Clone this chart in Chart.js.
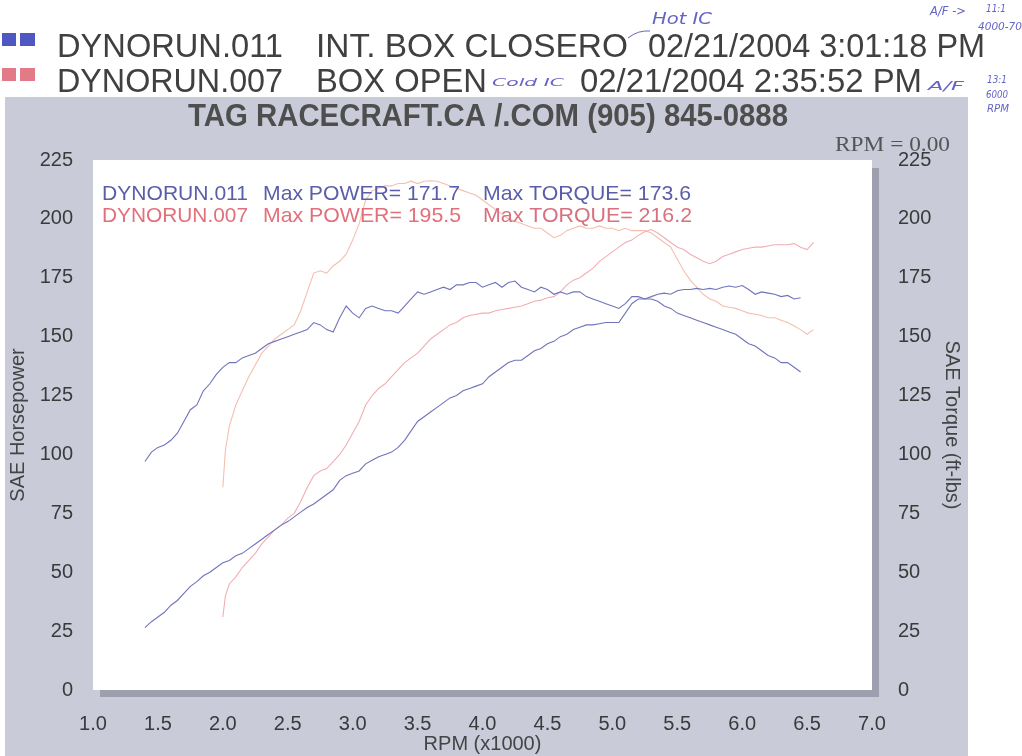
<!DOCTYPE html>
<html>
<head>
<meta charset="utf-8">
<title>Dyno run comparison</title>
<script src="https://cdn.jsdelivr.net/npm/chart.js@4.4.1/dist/chart.umd.min.js"></script>
<style>
  html, body { margin: 0; padding: 0; background: #ffffff; }
  #dyno { display: block; }
</style>
</head>
<body>
<canvas id="dyno" width="1022" height="756"></canvas>
<script>
// RPM (x1000) and readings
const rpm011 = [1.40,1.45,1.50,1.55,1.60,1.65,1.70,1.75,1.80,1.85,1.90,1.95,
    2.00,2.05,2.10,2.15,2.20,2.25,2.30,2.35,2.40,2.45,2.50,2.55,2.60,2.65,2.70,2.75,2.80,2.85,2.90,2.95,
    3.00,3.05,3.10,3.15,3.20,3.25,3.30,3.35,3.40,3.45,3.50,3.55,3.60,3.65,3.70,3.75,3.80,3.85,3.90,3.95,
    4.00,4.05,4.10,4.15,4.20,4.25,4.30,4.35,4.40,4.45,4.50,4.55,4.60,4.65,4.70,4.75,4.80,4.85,4.90,4.95,
    5.00,5.05,5.10,5.15,5.20,5.25,5.30,5.35,5.40,5.45,5.50,5.55,5.60,5.65,5.70,5.75,5.80,5.85,5.90,5.95,
    6.00,6.05,6.10,6.15,6.20,6.25,6.30,6.35,6.40,6.45]
const hp011 = [26.5,29,31,33,36,38,41,44,46,48.5,50,52,
    54,55,57,58,60,62,64,66,68,70,71.5,73.5,75.5,77.5,79,81,83,85,89,91,
    92,93,96,97.5,99,100,101,103,106,110,114,116,118,120,122,124,125,127,128,129,
    130,133,135,137,139,140,140,142,144,145,147,148,150,151,153,154,155,155,155.5,156,
    156,156,160,164,166,166,167,168,168.5,168,169.5,170,170,170.5,170,170.5,170,171,171.5,171,
    171.7,170,168,169,168.5,168,167,167.5,166,166.5]
const tq011 = [97,101,103,104,106,109,114,119,121,127,130,134,
    137,139,139,141,142,143,145,147,148,149,150,151,152,153,156,155,153,152,158,163,
    160,158,162,163,162,161,161,160,163,166,169,168,169,170,171,170,172,172,173,173,
    171,172,173,171,173,173.6,171,170,169,171,170,168,169,168,169,169,167,166,165,164,
    163,162,164,167,167,166,166,165,163,162,160,159,158,157,156,155,154,153,152,151,
    149,147,146,144,142,141,139,139,137,135]

const rpm007 = [2.00,2.02,2.05,2.10,2.15,2.20,2.25,2.30,2.35,2.40,2.45,2.50,2.55,2.60,2.65,2.70,2.75,2.80,2.85,2.90,2.95,
    3.00,3.05,3.10,3.15,3.20,3.25,3.30,3.35,3.40,3.45,3.50,3.55,3.60,3.65,3.70,3.75,3.80,3.85,3.90,3.95,
    4.00,4.05,4.10,4.15,4.20,4.25,4.30,4.35,4.40,4.45,4.50,4.55,4.60,4.65,4.70,4.75,4.80,4.85,4.90,4.95,
    5.00,5.05,5.10,5.15,5.20,5.25,5.30,5.35,5.40,5.45,5.50,5.55,5.60,5.65,5.70,5.75,5.80,5.85,5.90,5.95,
    6.00,6.05,6.10,6.15,6.20,6.25,6.30,6.35,6.40,6.45,6.50,6.55]
const hp007 = [31,40,45,48,52,55,58,62,65,68,70,73,75,80,86,91,93,94,97,100,104,
    109,114,121,125,128,130,133,136,139,141,143,146,149,151,153,155,156,158,159,159.5,
    160,160,161,161.5,162,162.5,163,164,165,165.5,166.5,167,169,172,174,175,177,179,182,184,
    186,188,190,191,193,194.5,195.5,194,192,190,188,187,185,183.5,182,181,182,184,185,186,
    187,187.5,188,188,188.5,189,189,189,189.5,188,187,190]
const tq007 = [86,102,112,121,127,133,138,143,146,149,151,153,155,161,169,177,178,177,180,182,185,
    191,198,208,212,213,214,214,215,215,216,215,216,216.2,216,215,214,213,212,211,210,
    208,206,204,202,200,199,198,197,196,196,194,192,193,195,196,197,196,196,197,196,
    196,195,196,195,195,195,194,192,190,188,183,178,174,171,168,166,165,163,162.5,162,
    161,160,159.5,159,158,158,157,156,154.5,153,151,153]

const rpmTicks = [1.0,1.5,2.0,2.5,3.0,3.5,4.0,4.5,5.0,5.5,6.0,6.5,7.0]
const valueTicks = [0,25,50,75,100,125,150,175,200,225]

const BLUE = '#7074bb'
const RED_HP = '#f2adb4'
const RED_TQ = '#f5bfae'
const INK = '#6464c4'

function pairs(xs, ys){
    return xs.map((x, i) => ({x: x, y: ys[i]}))
}

// text helper: squeeze/stretch to the width seen on the scan
function txt(c, s, x, y, font, color, width, align){
    c.save()
    c.font = font
    c.fillStyle = color
    c.textBaseline = 'alphabetic'
    c.textAlign = align || 'left'
    const w = c.measureText(s).width
    c.translate(x, y)
    if (width) c.scale(width / w, 1)
    c.fillText(s, 0, 0)
    c.restore()
}

const backdrop = {
    id: 'backdrop',
    beforeDraw(chart){
        const c = chart.ctx
        const a = chart.chartArea
        c.save()
        c.fillStyle = '#ffffff'
        c.fillRect(0, 0, chart.width, chart.height)
        c.fillStyle = '#c9cbd9'
        c.fillRect(5, 97, 963, 659)
        c.fillStyle = '#9d9fae'
        c.fillRect(a.left + 7, a.top + 8, a.right - a.left, a.bottom - a.top - 1)
        c.fillStyle = '#ffffff'
        c.fillRect(a.left, a.top, a.right - a.left, a.bottom - a.top)
        c.restore()
    },
    afterDraw(chart){
        const c = chart.ctx
        const sans = '"Liberation Sans", Arial, sans-serif'
        const hand = '"DejaVu Sans", sans-serif'

        // header run squares
        c.fillStyle = '#4f58c2'
        c.fillRect(2, 33, 14, 13)
        c.fillRect(20, 33, 15, 13)
        c.fillStyle = '#e27a88'
        c.fillRect(2, 68, 14, 13)
        c.fillRect(20, 68, 15, 13)

        const head = '33px ' + sans
        txt(c, 'DYNORUN.011', 57, 57, head, '#404040', 226)
        txt(c, 'INT. BOX CLOSERO', 316, 57, head, '#404040', 312)
        txt(c, '02/21/2004 3:01:18 PM', 648, 57, head, '#404040', 337)
        txt(c, 'DYNORUN.007', 57, 92, head, '#404040', 226)
        txt(c, 'BOX OPEN', 316, 92, head, '#404040', 171)
        txt(c, '02/21/2004 2:35:52 PM', 580, 92, head, '#404040', 342)

        // handwritten notes
        c.save()
        c.strokeStyle = INK
        c.lineWidth = 1
        c.beginPath()
        c.moveTo(628, 38)
        c.quadraticCurveTo(638, 30, 650, 31)
        c.stroke()
        c.restore()
        txt(c, 'Hot IC', 652, 24, 'italic 15px ' + hand, INK, 60)
        txt(c, 'A/F ->', 930, 15, 'italic 13px ' + hand, INK, 36)
        txt(c, '11:1', 986, 12, 'italic 11px ' + hand, INK, 20)
        txt(c, '4000-70', 978, 30, 'italic 10px ' + hand, INK, 44)
        txt(c, 'Cold IC', 492, 86, 'italic 11px ' + hand, INK, 72)
        txt(c, 'A/F', 928, 90, 'italic 13px ' + hand, INK, 36)
        txt(c, '13:1', 987, 83, 'italic 11px ' + hand, INK, 20)
        txt(c, '6000', 986, 98, 'italic 10px ' + hand, INK, 22)
        txt(c, 'RPM', 987, 112, 'italic 10px ' + hand, INK, 22)

        // panel title and cursor readout
        txt(c, 'TAG RACECRAFT.CA /.COM (905) 845-0888', 488, 126, 'bold 31px ' + sans, '#4e4e4e', 600, 'center')
        txt(c, 'RPM = 0.00', 835, 151, '20px "Liberation Serif", serif', '#555555', 115)

        // in-chart run summary
        const leg = '21px ' + sans
        txt(c, 'DYNORUN.011', 102, 200, leg, '#5a5eaa', 146)
        txt(c, 'Max POWER= 171.7', 263, 200, leg, '#5a5eaa', 197)
        txt(c, 'Max TORQUE= 173.6', 483, 200, leg, '#5a5eaa', 208)
        txt(c, 'DYNORUN.007', 102, 222, leg, '#e2707a', 146)
        txt(c, 'Max POWER= 195.5', 263, 222, leg, '#e2707a', 198)
        txt(c, 'Max TORQUE= 216.2', 483, 222, leg, '#d8707e', 209)
    }
}

Chart.defaults.font.family = '"Liberation Sans", Arial, sans-serif'

const tickFont = {size: 20}

new Chart(document.getElementById('dyno'), {
    type: 'line',
    data: {
        datasets: [
            {label: 'DYNORUN.011 Power', data: pairs(rpm011, hp011), borderColor: BLUE, yAxisID: 'y'},
            {label: 'DYNORUN.011 Torque', data: pairs(rpm011, tq011), borderColor: BLUE, yAxisID: 'y2'},
            {label: 'DYNORUN.007 Power', data: pairs(rpm007, hp007), borderColor: RED_HP, yAxisID: 'y'},
            {label: 'DYNORUN.007 Torque', data: pairs(rpm007, tq007), borderColor: RED_TQ, yAxisID: 'y2'}
        ]
    },
    options: {
        responsive: false,
        animation: false,
        events: [],
        layout: {padding: {top: 160, left: 0, right: 0, bottom: 0}},
        elements: {
            point: {radius: 0},
            line: {borderWidth: 1.1, tension: 0}
        },
        plugins: {
            legend: {display: false},
            tooltip: {enabled: false}
        },
        scales: {
            x: {
                type: 'linear',
                min: 1, max: 7,
                afterBuildTicks: s => { s.ticks = rpmTicks.map(v => ({value: v})) },
                afterFit: s => { s.height = 66 },
                grid: {display: false, drawTicks: false},
                border: {display: false},
                ticks: {color: '#3a3a3a', font: tickFont, padding: 22, maxRotation: 0, autoSkip: false,
                    callback: v => v.toFixed(1)},
                title: {display: true, text: 'RPM (x1000)', color: '#444444', font: {size: 20}, padding: {top: 0, bottom: 0}}
            },
            y: {
                position: 'left',
                min: 0, max: 225,
                afterBuildTicks: s => { s.ticks = valueTicks.map(v => ({value: v})) },
                afterFit: s => { s.width = 93 },
                grid: {display: false, drawTicks: false},
                border: {display: false},
                ticks: {color: '#3a3a3a', font: tickFont, padding: 20, autoSkip: false},
                title: {display: true, text: 'SAE Horsepower', color: '#444444', font: {size: 20}, padding: {top: 6, bottom: 0}}
            },
            y2: {
                position: 'right',
                min: 0, max: 225,
                afterBuildTicks: s => { s.ticks = valueTicks.map(v => ({value: v})) },
                afterFit: s => { s.width = 150 },
                grid: {display: false, drawTicks: false},
                border: {display: false},
                ticks: {color: '#3a3a3a', font: tickFont, padding: 26, autoSkip: false},
                title: {display: true, text: 'SAE Torque (ft-lbs)', color: '#444444', font: {size: 20}, padding: {top: 58, bottom: 0}}
            }
        }
    },
    plugins: [backdrop]
})
</script>
</body>
</html>
